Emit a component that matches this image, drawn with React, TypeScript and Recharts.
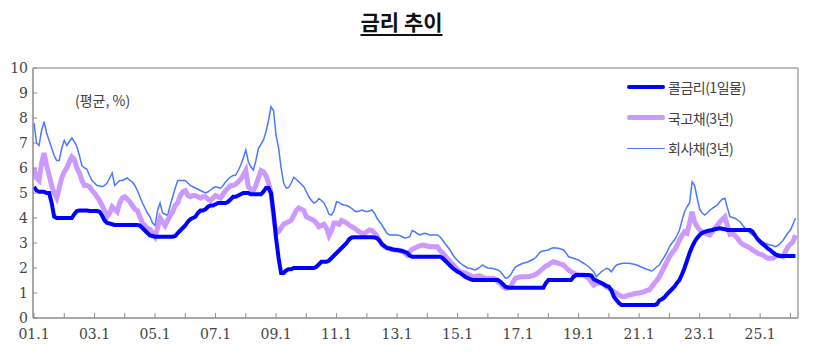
import React from 'react';
import { LineChart, Line, XAxis, YAxis, ReferenceLine, Legend } from 'recharts';

// monthly averages, 2001.1 ~ 2026.3 (%)
const callRate = [
  5.25, 5.1, 5.05, 5.05, 5.05, 5.0, 5.0, 4.6, 4.05, 4.0, 4.0, 4.0, // 2001
  4.0, 4.0, 4.0, 4.0, 4.15, 4.28, 4.3, 4.3, 4.3, 4.3, 4.28, 4.28, // 2002
  4.28, 4.28, 4.25, 4.1, 3.9, 3.8, 3.78, 3.75, 3.72, 3.72, 3.72, 3.72, // 2003
  3.72, 3.72, 3.72, 3.72, 3.72, 3.72, 3.7, 3.6, 3.5, 3.4, 3.3, 3.28, // 2004
  3.25, 3.25, 3.25, 3.25, 3.25, 3.25, 3.25, 3.25, 3.28, 3.4, 3.5, 3.6, // 2005
  3.7, 3.85, 3.95, 4.0, 4.05, 4.2, 4.3, 4.3, 4.35, 4.45, 4.5, 4.5, // 2006
  4.55, 4.6, 4.6, 4.6, 4.6, 4.65, 4.75, 4.85, 4.85, 4.9, 4.95, 5.0, // 2007
  5.0, 5.0, 4.95, 4.95, 4.95, 4.95, 4.95, 5.05, 5.2, 5.2, 5.0, 4.2, // 2008
  3.2, 2.4, 1.8, 1.8, 1.9, 1.95, 1.95, 2.0, 2.0, 2.0, 2.0, 2.0, // 2009
  2.0, 2.0, 2.0, 2.0, 2.05, 2.15, 2.25, 2.25, 2.25, 2.3, 2.4, 2.5, // 2010
  2.6, 2.7, 2.8, 2.9, 3.0, 3.15, 3.22, 3.23, 3.23, 3.23, 3.23, 3.23, // 2011
  3.23, 3.23, 3.23, 3.22, 3.2, 3.1, 2.95, 2.88, 2.8, 2.78, 2.75, 2.73, // 2012
  2.72, 2.7, 2.68, 2.65, 2.6, 2.5, 2.45, 2.45, 2.45, 2.45, 2.45, 2.45, // 2013
  2.45, 2.45, 2.45, 2.45, 2.45, 2.45, 2.4, 2.3, 2.2, 2.1, 2.0, 1.92, // 2014
  1.85, 1.8, 1.72, 1.65, 1.6, 1.55, 1.52, 1.52, 1.52, 1.52, 1.52, 1.52, // 2015
  1.52, 1.52, 1.52, 1.52, 1.52, 1.45, 1.35, 1.25, 1.22, 1.21, 1.21, 1.21, // 2016
  1.21, 1.21, 1.21, 1.21, 1.21, 1.21, 1.21, 1.21, 1.21, 1.21, 1.21, 1.4, // 2017
  1.52, 1.52, 1.52, 1.52, 1.52, 1.52, 1.52, 1.52, 1.52, 1.52, 1.65, 1.72, // 2018
  1.72, 1.72, 1.72, 1.72, 1.72, 1.7, 1.55, 1.5, 1.45, 1.4, 1.35, 1.28, // 2019
  1.25, 1.1, 0.85, 0.72, 0.6, 0.52, 0.52, 0.52, 0.52, 0.52, 0.52, 0.52, // 2020
  0.52, 0.52, 0.52, 0.52, 0.52, 0.52, 0.52, 0.55, 0.7, 0.75, 0.82, 0.95, // 2021
  1.05, 1.15, 1.25, 1.4, 1.52, 1.75, 2.0, 2.3, 2.6, 2.85, 3.05, 3.2, // 2022
  3.32, 3.4, 3.45, 3.48, 3.5, 3.52, 3.55, 3.57, 3.59, 3.57, 3.55, 3.52, // 2023
  3.52, 3.52, 3.52, 3.52, 3.52, 3.52, 3.52, 3.52, 3.52, 3.45, 3.3, 3.15, // 2024
  3.05, 2.95, 2.88, 2.78, 2.72, 2.62, 2.55, 2.5, 2.48, 2.48, 2.48, 2.48, // 2025
  2.48, 2.48, 2.48, // 2026
];

const ktb3y = [
  6.0, 5.6, 5.5, 6.2, 6.6, 6.1, 5.7, 5.3, 5.0, 4.8, 5.2, 5.6, // 2001
  5.85, 6.0, 6.25, 6.45, 6.35, 6.0, 5.8, 5.5, 5.3, 5.3, 5.25, 5.1, // 2002
  5.0, 4.85, 4.7, 4.5, 4.3, 4.05, 4.2, 4.45, 4.35, 4.25, 4.6, 4.8, // 2003
  4.85, 4.75, 4.65, 4.5, 4.35, 4.3, 4.05, 3.8, 3.7, 3.6, 3.55, 3.4, // 2004
  3.25, 3.6, 4.0, 3.85, 3.7, 3.9, 4.1, 4.25, 4.5, 4.6, 4.9, 5.05, // 2005
  5.1, 4.9, 4.85, 4.9, 4.9, 4.85, 4.8, 4.85, 4.85, 4.75, 4.7, 4.8, // 2006
  4.9, 4.85, 4.8, 4.95, 5.1, 5.2, 5.3, 5.3, 5.35, 5.45, 5.55, 5.7, // 2007
  5.9, 5.25, 5.15, 5.1, 5.3, 5.6, 5.9, 5.85, 5.7, 5.4, 5.0, 4.1, // 2008
  3.4, 3.45, 3.6, 3.75, 3.8, 3.85, 3.9, 4.1, 4.3, 4.4, 4.35, 4.3, // 2009
  4.05, 4.0, 3.95, 3.9, 3.8, 3.65, 3.7, 3.75, 3.6, 3.3, 3.5, 3.8, // 2010
  3.8, 3.75, 3.9, 3.85, 3.8, 3.72, 3.65, 3.6, 3.52, 3.45, 3.4, 3.38, // 2011
  3.45, 3.52, 3.5, 3.4, 3.28, 3.1, 2.95, 2.85, 2.8, 2.78, 2.75, 2.72, // 2012
  2.72, 2.7, 2.68, 2.6, 2.52, 2.65, 2.75, 2.8, 2.85, 2.88, 2.92, 2.9, // 2013
  2.88, 2.85, 2.85, 2.85, 2.85, 2.7, 2.62, 2.5, 2.38, 2.25, 2.15, 2.05, // 2014
  1.95, 1.85, 1.82, 1.8, 1.75, 1.7, 1.65, 1.66, 1.68, 1.68, 1.62, 1.6, // 2015
  1.59, 1.59, 1.59, 1.55, 1.45, 1.38, 1.25, 1.19, 1.2, 1.25, 1.45, 1.6, // 2016
  1.62, 1.65, 1.65, 1.65, 1.65, 1.68, 1.7, 1.75, 1.82, 1.9, 2.0, 2.08, // 2017
  2.12, 2.2, 2.25, 2.22, 2.19, 2.15, 2.12, 2.02, 1.92, 1.85, 1.79, 1.75, // 2018
  1.72, 1.72, 1.72, 1.65, 1.59, 1.45, 1.32, 1.39, 1.4, 1.39, 1.32, 1.25, // 2019
  1.2, 1.12, 1.05, 0.99, 0.92, 0.86, 0.85, 0.88, 0.92, 0.94, 0.97, 0.99, // 2020
  1.0, 1.03, 1.05, 1.1, 1.12, 1.25, 1.39, 1.5, 1.65, 1.85, 2.05, 2.25, // 2021
  2.45, 2.6, 2.72, 2.9, 3.12, 3.3, 3.45, 3.39, 3.8, 4.25, 3.85, 3.65, // 2022
  3.52, 3.45, 3.39, 3.35, 3.32, 3.45, 3.59, 3.7, 3.85, 3.95, 4.05, 3.7, // 2023
  3.35, 3.39, 3.3, 3.19, 3.05, 2.95, 2.9, 2.85, 2.8, 2.72, 2.65, 2.59, // 2024
  2.55, 2.52, 2.45, 2.39, 2.39, 2.39, 2.45, 2.52, 2.48, 2.45, 2.65, 2.85, // 2025
  2.95, 3.05, 3.32, // 2026
];

const corp3y = [
  7.8, 7.0, 6.9, 7.5, 7.85, 7.4, 7.1, 6.8, 6.5, 6.3, 6.3, 6.8, // 2001
  7.1, 6.9, 7.05, 7.2, 7.05, 6.85, 6.5, 6.1, 6.0, 5.95, 5.7, 5.5, // 2002
  5.4, 5.3, 5.28, 5.25, 5.3, 5.4, 5.6, 5.8, 5.3, 5.4, 5.5, 5.5, // 2003
  5.55, 5.6, 5.5, 5.45, 5.3, 5.1, 4.85, 4.6, 4.4, 4.2, 4.05, 3.8, // 2004
  3.7, 4.3, 4.6, 4.2, 4.15, 4.1, 4.5, 4.85, 5.2, 5.5, 5.5, 5.5, // 2005
  5.5, 5.4, 5.3, 5.25, 5.2, 5.15, 5.1, 5.05, 5.0, 5.05, 5.12, 5.2, // 2006
  5.25, 5.22, 5.19, 5.3, 5.45, 5.55, 5.65, 5.7, 5.72, 5.9, 6.12, 6.4, // 2007
  6.72, 6.25, 6.05, 5.92, 6.3, 6.78, 6.95, 7.12, 7.45, 7.9, 8.45, 8.3, // 2008
  7.3, 6.8, 6.0, 5.4, 5.2, 5.22, 5.4, 5.62, 5.55, 5.45, 5.35, 5.25, // 2009
  5.05, 4.85, 4.7, 4.6, 4.65, 4.78, 4.7, 4.6, 4.4, 4.15, 4.12, 4.3, // 2010
  4.65, 4.62, 4.55, 4.52, 4.5, 4.45, 4.38, 4.3, 4.25, 4.28, 4.32, 4.28, // 2011
  4.25, 4.28, 4.32, 4.2, 4.0, 3.85, 3.72, 3.55, 3.38, 3.32, 3.32, 3.32, // 2012
  3.32, 3.3, 3.25, 3.2, 3.22, 3.25, 3.5, 3.45, 3.38, 3.32, 3.36, 3.39, // 2013
  3.36, 3.32, 3.32, 3.32, 3.32, 3.25, 3.12, 2.98, 2.85, 2.72, 2.55, 2.4, // 2014
  2.3, 2.2, 2.12, 2.06, 2.0, 1.99, 1.95, 1.92, 1.98, 2.05, 2.12, 2.05, // 2015
  2.0, 1.99, 1.98, 1.95, 1.92, 1.85, 1.72, 1.59, 1.62, 1.72, 1.9, 2.05, // 2016
  2.1, 2.15, 2.19, 2.22, 2.25, 2.3, 2.35, 2.42, 2.55, 2.65, 2.68, 2.7, // 2017
  2.72, 2.78, 2.81, 2.8, 2.79, 2.76, 2.72, 2.6, 2.45, 2.42, 2.39, 2.35, // 2018
  2.32, 2.25, 2.19, 2.12, 2.05, 1.95, 1.85, 1.65, 1.75, 1.85, 1.92, 1.99, // 2019
  1.95, 1.85, 2.0, 2.12, 2.15, 2.18, 2.19, 2.19, 2.19, 2.17, 2.15, 2.12, // 2020
  2.08, 2.03, 1.99, 1.95, 1.92, 1.88, 1.95, 2.05, 2.12, 2.3, 2.45, 2.62, // 2021
  2.85, 3.0, 3.12, 3.3, 3.52, 3.9, 4.25, 4.45, 4.6, 5.45, 5.3, 4.8, // 2022
  4.35, 4.2, 4.12, 4.2, 4.3, 4.39, 4.45, 4.52, 4.65, 4.75, 4.79, 4.4, // 2023
  4.05, 4.02, 3.99, 3.92, 3.85, 3.72, 3.59, 3.5, 3.39, 3.32, 3.27, 3.2, // 2024
  3.12, 3.05, 2.99, 2.95, 2.92, 2.9, 2.85, 2.9, 2.99, 3.1, 3.25, 3.4, // 2025
  3.52, 3.75, 3.99, // 2026
];

// one tick per January, label every other year
const yearLabels = [
  '01.1', '', '03.1', '', '05.1', '', '07.1', '', '09.1', '', '11.1', '', '13.1',
  '', '15.1', '', '17.1', '', '19.1', '', '21.1', '', '23.1', '', '25.1', '',
];
const yTicks = [0, 1, 2, 3, 4, 5, 6, 7, 8, 9, 10];

const seriesNames = ['콜금리(1일물)', '국고채(3년)', '회사채(3년)'];

const data = callRate.map((v, i) => ({
  m: i,
  call: v,
  ktb: ktb3y[i],
  corp: corp3y[i],
}));
const xTicks = yearLabels.map((_, i) => i * 12);

const NUM_FONT = '"DejaVu Serif", "Liberation Serif", serif';
const KR_FONT = '"Noto Sans CJK KR", sans-serif';
const AXIS = '#8c8c8c';

const XTick = ({ x, payload }: any) => {
  const label = yearLabels[Math.round(payload.value / 12)];
  if (!label) return null;
  return (
    <text x={x} y={339} textAnchor="middle" fontSize={14} fontFamily={NUM_FONT} fill="#444">
      {label}
    </text>
  );
};

const YTick = ({ y, payload }: any) => (
  <text x={28} y={y + 5} textAnchor="end" fontSize={14} fontFamily={NUM_FONT} fill="#444">
    {payload.value}
  </text>
);

const legendStyle = [
  { color: '#0000ff', width: 4 },
  { color: '#cc99ff', width: 5 },
  { color: '#4a78ff', width: 1.5 },
];

const ChartLegend = () => (
  <div style={{ fontFamily: KR_FONT, fontSize: 14, color: '#404040' }}>
    {seriesNames.map((name, i) => (
      <div key={name} style={{ display: 'flex', alignItems: 'center', height: 30.5 }}>
        <div
          style={{
            width: 38,
            height: legendStyle[i].width,
            background: legendStyle[i].color,
            borderRadius: 2,
            marginRight: 3,
          }}
        />
        <span style={{ letterSpacing: -0.5 }}>{name}</span>
      </div>
    ))}
  </div>
);

export default function App() {
  return (
    <div style={{ position: 'absolute', left: 0, top: 0, width: 820, height: 356, background: '#fff' }}>
      <div
        style={{
          position: 'absolute',
          left: 0,
          width: 803,
          top: 6,
          textAlign: 'center',
          fontFamily: KR_FONT,
          fontWeight: 700,
          fontSize: 21,
          color: '#111',
        }}
      >
        <span style={{ textDecoration: 'underline', textUnderlineOffset: 4 }}>금리 추이</span>
      </div>
      <div
        style={{
          position: 'absolute',
          left: 75,
          top: 90,
          fontFamily: KR_FONT,
          fontSize: 14,
          color: '#404040',
          zIndex: 2,
        }}
      >
        (평균, %)
      </div>
      <LineChart
        width={820}
        height={356}
        data={data}
        margin={{ top: 68, right: 22, bottom: 8, left: 0 }}
      >
        <XAxis
          type="number"
          dataKey="m"
          domain={[-0.4, 303]}
          ticks={xTicks}
          interval={0}
          height={30}
          tickSize={-5}
          tickMargin={0}
          axisLine={{ stroke: AXIS, strokeWidth: 1.5 }}
          tickLine={{ stroke: AXIS }}
          tick={<XTick />}
          allowDataOverflow
        />
        <YAxis
          type="number"
          domain={[0, 10]}
          ticks={yTicks}
          interval={0}
          width={33}
          tickSize={-4}
          tickMargin={0}
          axisLine={{ stroke: AXIS, strokeWidth: 1.5 }}
          tickLine={{ stroke: AXIS }}
          tick={<YTick />}
        />
        <ReferenceLine y={10} stroke="#a6a6a6" strokeWidth={1.5} />
        <ReferenceLine x={303} stroke="#a6a6a6" strokeWidth={1.5} />
        <Legend
          layout="vertical"
          align="center"
          verticalAlign="middle"
          content={<ChartLegend />}
          wrapperStyle={{ position: 'absolute', left: 627, top: 72, width: 180 }}
        />
        <Line
          type="linear"
          dataKey="corp"
          name={seriesNames[2]}
          stroke="#4a78ff"
          strokeWidth={1.5}
          dot={false}
          isAnimationActive={false}
        />
        <Line
          type="linear"
          dataKey="ktb"
          name={seriesNames[1]}
          stroke="#cc99ff"
          strokeWidth={5}
          dot={false}
          isAnimationActive={false}
        />
        <Line
          type="linear"
          dataKey="call"
          name={seriesNames[0]}
          stroke="#0000ff"
          strokeWidth={4}
          dot={false}
          isAnimationActive={false}
        />
      </LineChart>
    </div>
  );
}
